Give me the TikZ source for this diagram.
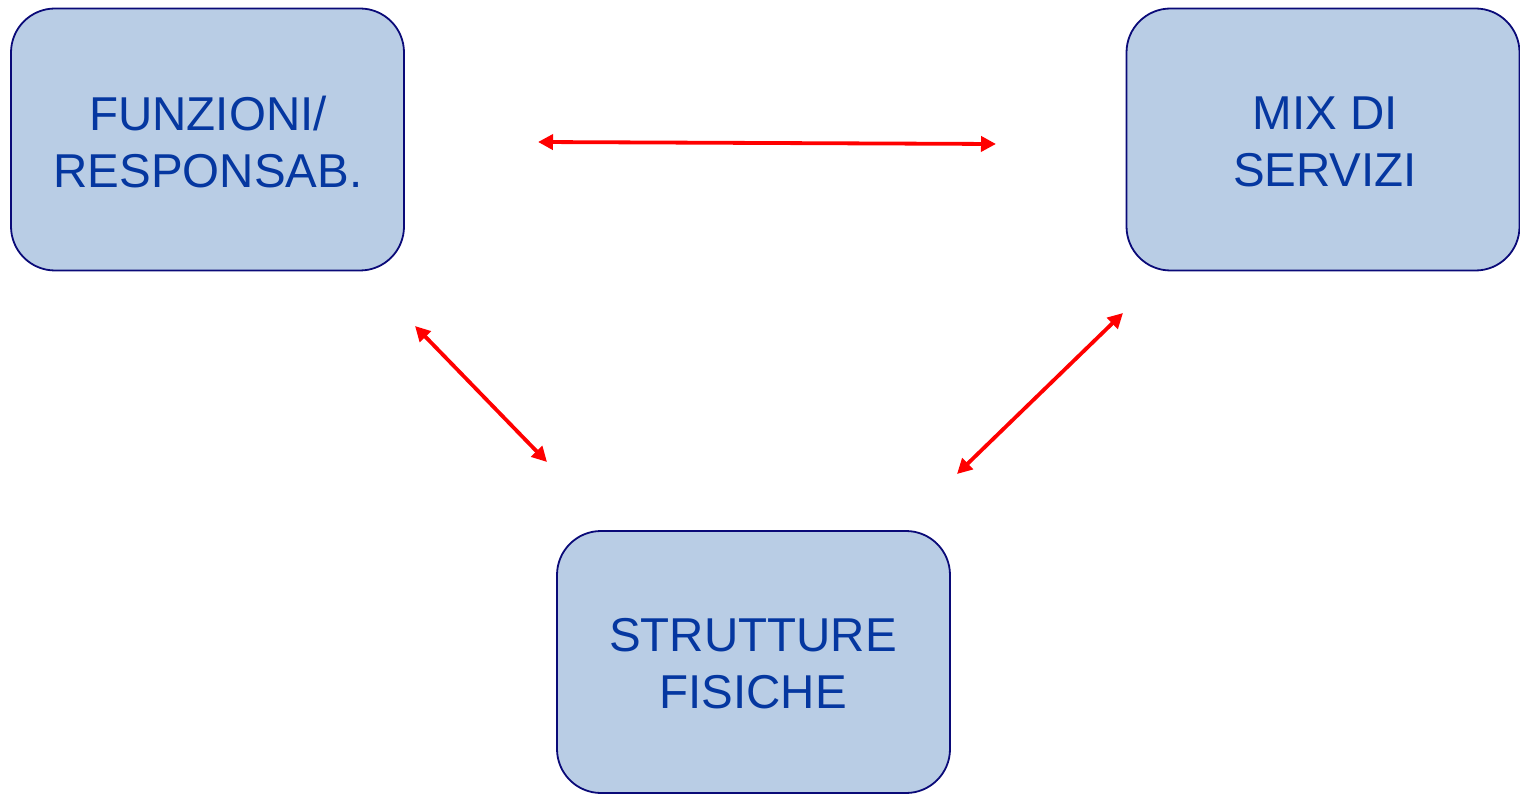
\documentclass[tikz,border=0pt]{standalone}
\usepackage{fontspec}
\setmainfont{Liberation Sans}
\usetikzlibrary{arrows.meta}
\definecolor{boxfill}{HTML}{B9CDE5}
\definecolor{boxline}{HTML}{0A0A78}
\definecolor{boxtext}{HTML}{0537A0}
\definecolor{linkred}{HTML}{FF0000}
\begin{document}
\begin{tikzpicture}[x=1pt,y=-1pt,
  box/.style={draw=boxline, line width=1.8pt, fill=boxfill, rounded corners=44pt,
    text=boxtext, align=center, inner sep=0pt,
    minimum width=393pt, minimum height=262pt,
    font=\fontsize{47.5pt}{57pt}\selectfont},
  link/.style={draw=linkred, line width=3.8pt,
    {Triangle[length=15pt,width=15pt]}-{Triangle[length=15pt,width=15pt]}}]
\useasboundingbox (0,0) rectangle (1520,794);

% the three boxes
\node[box] (fr) at (207.5,139.5) {};
\node[box] (ms) at (1323,139.5) {};
\node[box] (sf) at (753.5,662) {};

% box labels, set a touch below the box centres
\node[text=boxtext, align=center, font=\fontsize{47.5pt}{57pt}\selectfont] (frt) at (208,142) {FUNZIONI/\\RESPONSAB.};
\node[text=boxtext, align=center, font=\fontsize{47.5pt}{57pt}\selectfont] (mst) at (1325,142) {MIX DI\\SERVIZI};
\node[text=boxtext, align=center, font=\fontsize{47.5pt}{57pt}\selectfont] (sft) at (753,664) {STRUTTURE\\FISICHE};

% free ends of the links
\coordinate (a1) at (538,142);
\coordinate (a2) at (996,144);
\coordinate (b1) at (415,326);
\coordinate (b2) at (547,462);
\coordinate (c1) at (1123,313);
\coordinate (c2) at (957,474);

% double-headed links
\draw[link] (a1) -- (a2);
\draw[link] (b1) -- (b2);
\draw[link] (c1) -- (c2);
\end{tikzpicture}
\end{document}
